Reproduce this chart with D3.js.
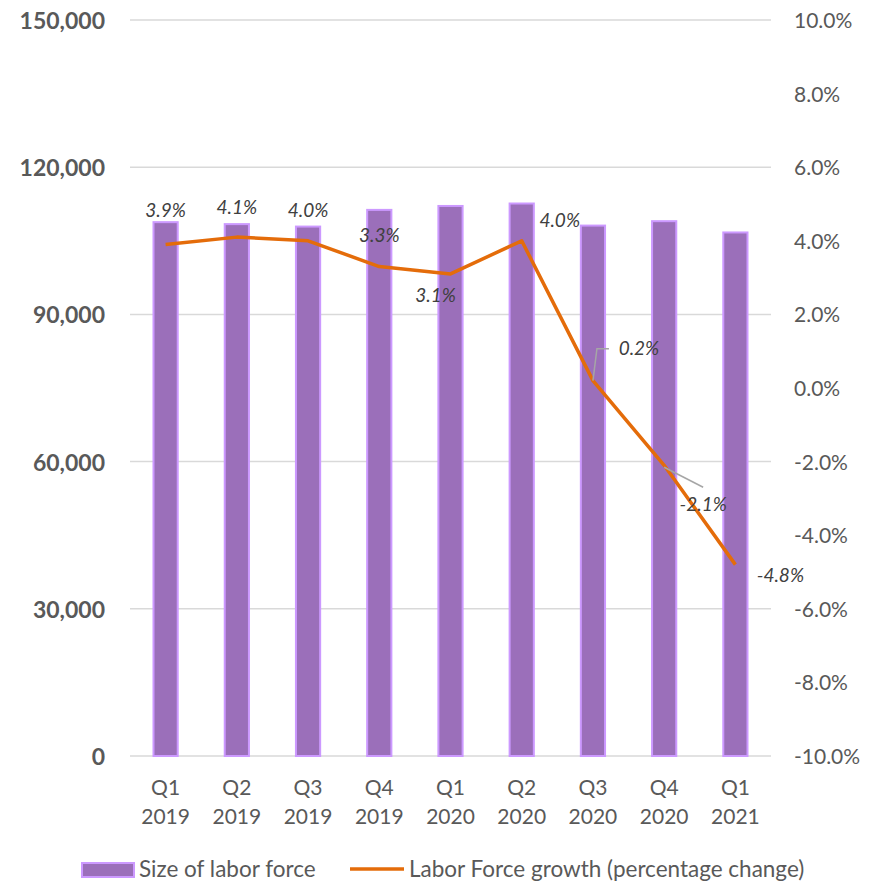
<!DOCTYPE html>
<html>
<head>
<meta charset="utf-8">
<title>Labor force</title>
<style>
  body { margin: 0; background: #fff; }
  svg text { font-family: Lato, "Open Sans", sans-serif; fill: #595959; }
  .lbl { font-style: italic; font-size: 19px; fill: #404040; }
</style>
</head>
<body>
<svg width="875" height="881"></svg>
<script src="https://d3js.org/d3.v7.min.js"></script>
<script>
var quarters = ["Q1", "Q2", "Q3", "Q4", "Q1", "Q2", "Q3", "Q4", "Q1"];
var years = ["2019", "2019", "2019", "2019", "2020", "2020", "2020", "2020", "2021"];
var laborForce = [108800, 108400, 107900, 111300, 112100, 112600, 108100, 109000, 106700];
var growth = [3.9, 4.1, 4.0, 3.3, 3.1, 4.0, 0.2, -2.1, -4.8];
var leftTicks = [0, 30000, 60000, 90000, 120000, 150000];
var rightTicks = [-10, -8, -6, -4, -2, 0, 2, 4, 6, 8, 10];

// label placement relative to each point (layout only)
var labelOff = [[0, -27], [0, -23], [0, -24], [0, -25], [-15, 28], [38, -14], [46, -26], [39, 46], [45, 17]];

var svg = d3.select("svg"),
    mLeft = 130, mRight = 771, mTop = 20, mBottom = 756;

var idx = d3.range(quarters.length);
var x = d3.scaleBand().domain(idx).range([mLeft, mRight]);
var y = d3.scaleLinear().domain([0, 150000]).range([mBottom, mTop]);
var y2 = d3.scaleLinear().domain([-10, 10]).range([mBottom, mTop]);

// gridlines
svg.append("g").selectAll("line")
  .data(leftTicks)
  .enter().append("line")
  .attr("x1", mLeft).attr("x2", mRight)
  .attr("y1", function(d) { return y(d); })
  .attr("y2", function(d) { return y(d); })
  .attr("stroke", "#d9d9d9").attr("stroke-width", 1.5);

// left axis
var yAxis = svg.append("g")
  .attr("transform", "translate(105,0)")
  .call(d3.axisLeft(y).tickValues(leftTicks).tickSize(0).tickPadding(0).tickFormat(d3.format(",")));
yAxis.select(".domain").remove();
yAxis.selectAll("text").attr("font-size", 23).attr("font-weight", "bold").attr("dy", "8.5px")
  .style("font-family", "Lato, sans-serif").style("fill", "#595959");

// right axis (plain hyphen for negatives, like the source)
var y2Axis = svg.append("g")
  .attr("transform", "translate(794,0)")
  .call(d3.axisRight(y2).tickValues(rightTicks).tickSize(0).tickPadding(0)
    .tickFormat(function(d) { return d.toFixed(1) + "%"; }));
y2Axis.select(".domain").remove();
y2Axis.selectAll("text").attr("font-size", 21).attr("dy", "7.5px")
  .style("font-family", "Lato, sans-serif").style("fill", "#595959");

// bars
var bw = x.bandwidth() * 0.34;
svg.append("g").selectAll("rect")
  .data(laborForce)
  .enter().append("rect")
  .attr("x", function(d, i) { return x(i) + x.bandwidth() / 2 - bw / 2; })
  .attr("y", function(d) { return y(d); })
  .attr("width", bw)
  .attr("height", function(d) { return mBottom - y(d); })
  .attr("fill", "#9b6fba")
  .attr("stroke", "#cc99ff")
  .attr("stroke-width", 2);

// x labels
var xl = svg.append("g").selectAll("text")
  .data(idx)
  .enter().append("text")
  .attr("text-anchor", "middle")
  .attr("font-size", 21);
xl.append("tspan")
  .attr("x", function(i) { return x(i) + x.bandwidth() / 2; })
  .attr("y", 795)
  .text(function(i) { return quarters[i]; });
xl.append("tspan")
  .attr("x", function(i) { return x(i) + x.bandwidth() / 2; })
  .attr("y", 824)
  .text(function(i) { return years[i]; });

// growth line
var cx = function(i) { return x(i) + x.bandwidth() / 2; };
var line = d3.line()
  .x(function(d, i) { return cx(i); })
  .y(function(d) { return y2(d); });
svg.append("path")
  .datum(growth)
  .attr("d", line)
  .attr("fill", "none")
  .attr("stroke", "#e46c0a")
  .attr("stroke-width", 3.5)
  .attr("stroke-linejoin", "round");

// leader lines
svg.append("polyline")
  .attr("points", [[cx(6), y2(growth[6])], [cx(6) + 4, y2(growth[6]) - 32], [cx(6) + 16, y2(growth[6]) - 32]].join(" "))
  .attr("fill", "none").attr("stroke", "#a6a6a6").attr("stroke-width", 1.5);
svg.append("line")
  .attr("x1", cx(7)).attr("y1", y2(growth[7]) + 2)
  .attr("x2", cx(7) + 39).attr("y2", y2(growth[7]) + 22)
  .attr("stroke", "#a6a6a6").attr("stroke-width", 1.5);

// data labels
svg.append("g").selectAll("text")
  .data(growth)
  .enter().append("text")
  .attr("class", "lbl")
  .attr("text-anchor", "middle")
  .attr("x", function(d, i) { return cx(i) + labelOff[i][0]; })
  .attr("y", function(d, i) { return y2(d) + labelOff[i][1]; })
  .text(function(d) { return d.toFixed(1) + "%"; });

// legend
var lg = svg.append("g");
lg.append("rect").attr("x", 82).attr("y", 863).attr("width", 52).attr("height", 14)
  .attr("fill", "#9b6fba").attr("stroke", "#cc99ff").attr("stroke-width", 2);
lg.append("text").attr("x", 139).attr("y", 877).attr("font-size", 22.5).text("Size of labor force");
lg.append("line").attr("x1", 350).attr("x2", 404).attr("y1", 869).attr("y2", 869)
  .attr("stroke", "#e46c0a").attr("stroke-width", 3.5);
lg.append("text").attr("x", 409).attr("y", 877).attr("font-size", 22.5).text("Labor Force growth (percentage change)");
</script>
</body>
</html>
